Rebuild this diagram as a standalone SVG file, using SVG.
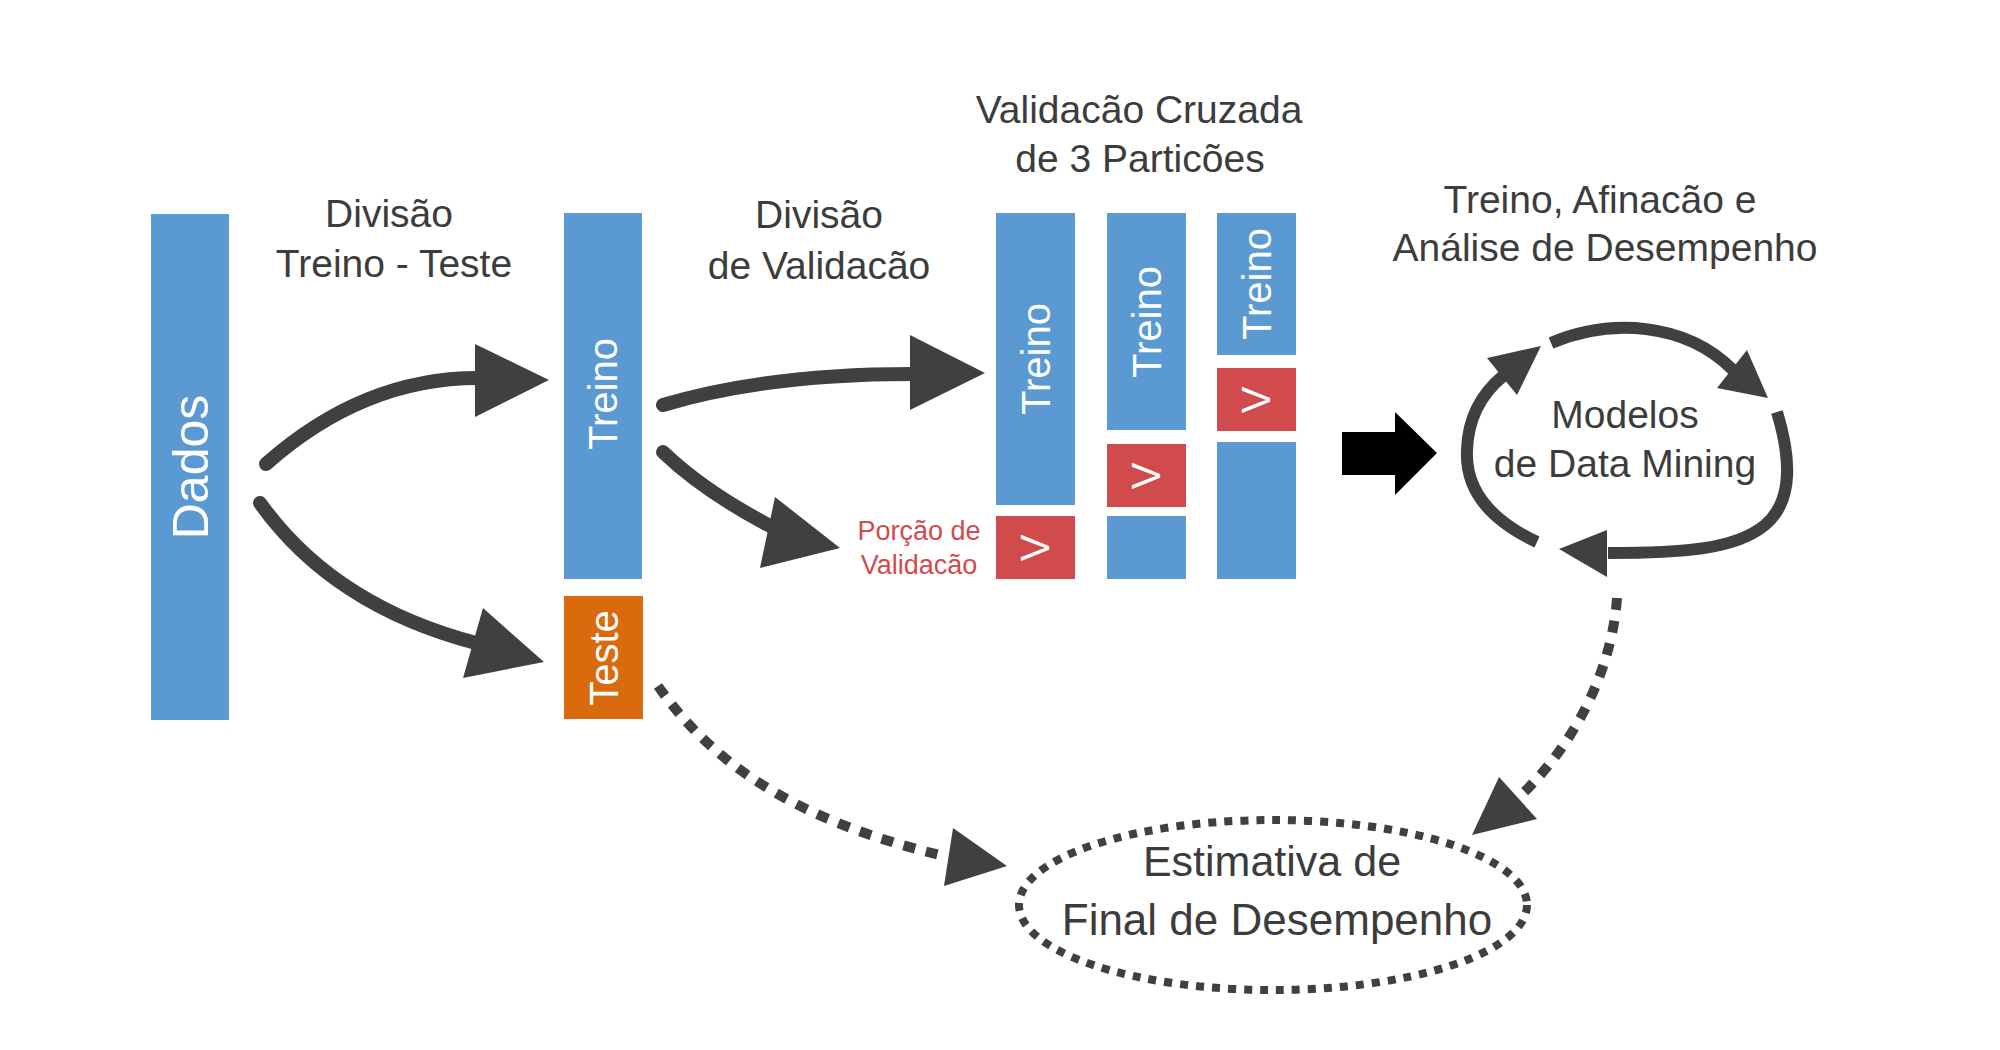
<svg xmlns="http://www.w3.org/2000/svg" width="2000" height="1050" viewBox="0 0 2000 1050">
<style>
.t{font-family:"Liberation Sans",Arial,sans-serif;fill:#3c3c3c;text-anchor:middle}
.h{font-size:39px}
.w{font-family:"Liberation Sans",Arial,sans-serif;fill:#ffffff;text-anchor:middle;font-size:40px}
.blue{fill:#5b99d2}
.red{fill:#d14b4c}
.orange{fill:#da6a0e}
.arr{fill:none;stroke:#404040;stroke-width:14;stroke-linecap:round}
.loop{fill:none;stroke:#404040;stroke-width:12;stroke-linecap:butt}
.dash{fill:none;stroke:#404040;stroke-width:10;stroke-dasharray:12 11}
.head{fill:#404040}
</style>
<rect width="2000" height="1050" fill="#ffffff"/>

<g id="label-divisao-treino-teste">
<text class="t h" x="389" y="227">Divisão</text>
<text class="t h" x="394" y="277">Treino - Teste</text>
</g>
<g id="label-divisao-validacao">
<text class="t h" x="819" y="228">Divisão</text>
<text class="t h" x="819" y="279">de Validacão</text>
</g>
<g id="label-validacao-cruzada">
<text class="t h" x="1139" y="123">Validacão Cruzada</text>
<text class="t h" x="1140" y="172">de 3 Particões</text>
</g>
<g id="label-treino-afinacao">
<text class="t h" x="1600" y="213">Treino, Afinacão e</text>
<text class="t h" x="1605" y="261">Análise de Desempenho</text>
</g>

<g id="node-dados">
<rect class="blue" x="151" y="214" width="78" height="506"/>
<text class="w" style="font-size:50px" transform="translate(208,467) rotate(-90)">Dados</text>
</g>

<g id="node-treino">
<rect class="blue" x="564" y="213" width="78" height="366"/>
<text class="w" transform="translate(617,394) rotate(-90)">Treino</text>
</g>

<g id="node-teste">
<rect class="orange" x="564" y="596" width="79" height="123"/>
<text class="w" transform="translate(618,658) rotate(-90)">Teste</text>
</g>

<g id="node-porcao-label">
<text class="t" style="fill:#d14b4c;font-size:27px" x="919" y="540">Porção de</text>
<text class="t" style="fill:#d14b4c;font-size:27px" x="919" y="574">Validacão</text>
</g>

<g id="node-fold-1">
<rect class="blue" x="996" y="213" width="79" height="292"/>
<text class="w" transform="translate(1050,359) rotate(-90)">Treino</text>
<rect class="red" x="996" y="516" width="79" height="63"/>
<text class="w" transform="translate(1049,548) rotate(-90)">V</text>
</g>

<g id="node-fold-2">
<rect class="blue" x="1107" y="213" width="79" height="217"/>
<text class="w" transform="translate(1161,322) rotate(-90)">Treino</text>
<rect class="red" x="1107" y="444" width="79" height="63"/>
<text class="w" transform="translate(1160,476) rotate(-90)">V</text>
<rect class="blue" x="1107" y="516" width="79" height="63"/>
</g>

<g id="node-fold-3">
<rect class="blue" x="1217" y="213" width="79" height="142"/>
<text class="w" transform="translate(1271,284) rotate(-90)">Treino</text>
<rect class="red" x="1217" y="368" width="79" height="63"/>
<text class="w" transform="translate(1270,400) rotate(-90)">V</text>
<rect class="blue" x="1217" y="442" width="79" height="137"/>
</g>

<g id="node-modelos">
<text class="t h" x="1625" y="428">Modelos</text>
<text class="t h" x="1625" y="477">de Data Mining</text>
</g>

<g id="node-estimativa">
<ellipse cx="1273" cy="905" rx="254" ry="85" fill="none" stroke="#404040" stroke-width="8" stroke-dasharray="8 8"/>
<text class="t" style="font-size:43px" x="1272" y="876">Estimativa de</text>
<text class="t" style="font-size:44px" x="1277" y="935">Final de Desempenho</text>
</g>

<g id="connectors">
<!-- Dados -> Treino -->
<path class="arr" d="M266,464 C310,425 380,378 478,378"/>
<polygon class="head" points="475,344 475,417 549,380"/>
<!-- Dados -> Teste -->
<path class="arr" d="M260,503 C290,545 350,610 476,643"/>
<polygon class="head" points="483,608 463,678 544,662"/>
<!-- Treino -> fold 1 -->
<path class="arr" d="M663,405 C720,388 800,374 912,374"/>
<polygon class="head" points="910,335 910,410 985,373"/>
<!-- Treino -> Porcao -->
<path class="arr" d="M663,452 C690,478 730,505 772,527"/>
<polygon class="head" points="775,497 760,568 840,548"/>
<!-- block arrow -->
<polygon fill="#000000" points="1342,432 1395,432 1395,412 1437,453 1395,495 1395,475 1342,475"/>
<!-- loop -->
<path class="loop" d="M1551,343 C1610,318 1685,322 1733,370"/>
<polygon class="head" points="1747,350 1717,388 1768,398"/>
<path class="loop" d="M1777,412 C1790,455 1795,500 1765,525 C1735,550 1680,553 1608,553"/>
<polygon class="head" points="1607,530 1607,577 1559,549"/>
<path class="loop" d="M1537,542 C1490,520 1465,490 1467,450 C1468,420 1480,395 1503,376"/>
<polygon class="head" points="1487,358 1517,395 1541,346"/>
<!-- Teste -> Estimativa -->
<path class="dash" d="M658,686 C710,760 790,820 948,857"/>
<polygon class="head" points="953,828 944,886 1007,866"/>
<!-- Modelos -> Estimativa -->
<path class="dash" d="M1617,598 C1612,670 1575,745 1518,798"/>
<polygon class="head" points="1499,777 1537,819 1472,835"/>
</g>
</svg>
